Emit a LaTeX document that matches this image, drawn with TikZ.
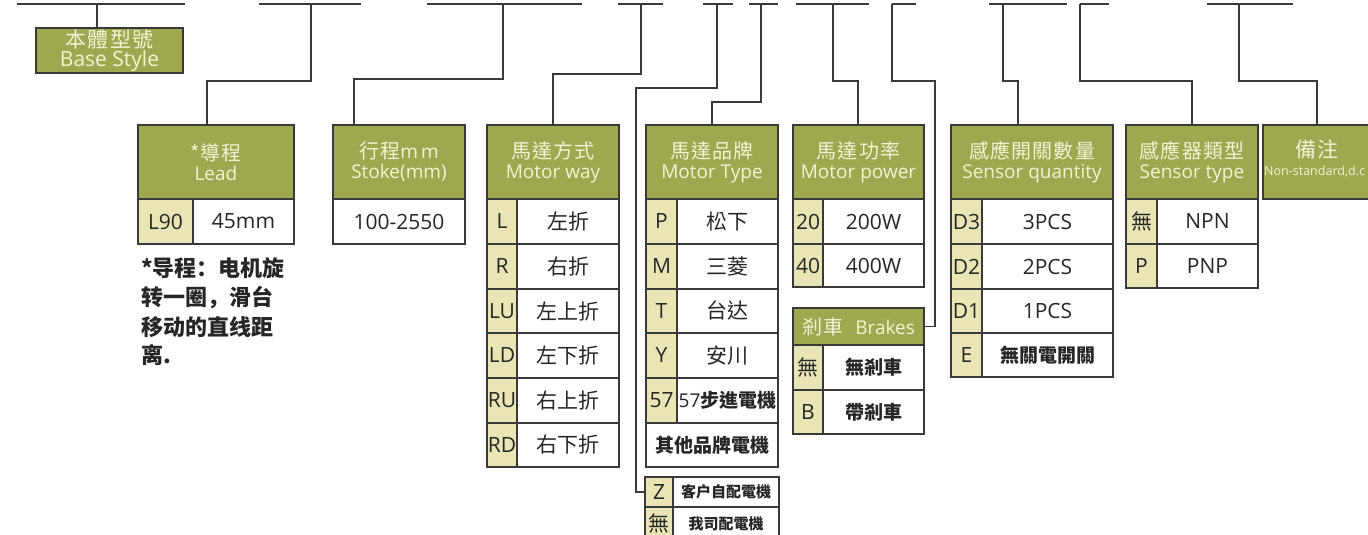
\documentclass[tikz,border=0pt]{standalone}
\usepackage{fontspec}
\setmainfont{Open Sans}
\newfontfamily\cjk{Noto Sans CJK TC}
\newfontfamily\cjkh[LetterSpace=6]{Noto Sans CJK TC}
\newfontfamily\cjksc{Noto Sans CJK SC}
\newcommand\C[1]{{\cjk #1}}
\newcommand\CH[1]{{\cjkh\fontsize{20}{20}\selectfont #1}}
\definecolor{hdrgreen}{HTML}{9DA84F}
\definecolor{codebeige}{HTML}{E9E5B5}
\definecolor{lnc}{HTML}{3A3A3A}
\definecolor{hdrtxt}{HTML}{F4F2D6}
\definecolor{txtc}{HTML}{262626}
\tikzset{
 conn/.style={draw=lnc, line width=1.7pt},
 hdr/.style={draw=lnc, line width=1.6pt, fill=hdrgreen, text=hdrtxt, inner sep=0pt, outer sep=0pt, align=center, font=\fontsize{19}{20}\selectfont},
 codecell/.style={draw=lnc, line width=1.6pt, fill=codebeige, text=txtc, inner sep=0pt, outer sep=0pt, font=\fontsize{21}{22}\selectfont},
 txtcell/.style={draw=lnc, line width=1.6pt, fill=white, text=txtc, inner sep=0pt, outer sep=0pt, font=\fontsize{21}{22}\selectfont},
 notetxt/.style={inner sep=0pt, text=txtc, anchor=west, font=\cjksc\bfseries\fontsize{22}{24}\selectfont},
}
% header box: [style] name x1 y1 x2 y2 text
\newcommand\hdrbox[7][]{%
 \pgfmathsetmacro\myW{#5-#3}\pgfmathsetmacro\myH{#6-#4}%
 \node[hdr,#1, minimum width=\myW pt, minimum height=\myH pt] (#2) at ({(#3+#5)/2},{(#4+#6)/2}) {#7};}
% row with code: name x1 xm x2 y1 y2 code text
\newcommand\crow[8]{%
 \pgfmathsetmacro\myW{#3-#2}\pgfmathsetmacro\myWb{#4-#3}\pgfmathsetmacro\myH{#6-#5}%
 \node[codecell, minimum width=\myW pt, minimum height=\myH pt] (#1c) at ({(#2+#3)/2},{(#5+#6)/2}) {\makebox[0pt]{#7}};
 \node[txtcell, minimum width=\myWb pt, minimum height=\myH pt] (#1t) at ({(#3+#4)/2},{(#5+#6)/2}) {\makebox[0pt]{#8}};}
% full row: name x1 x2 y1 y2 text
\newcommand\frow[6]{%
 \pgfmathsetmacro\myW{#3-#2}\pgfmathsetmacro\myH{#5-#4}%
 \node[txtcell, minimum width=\myW pt, minimum height=\myH pt] (#1) at ({(#2+#3)/2},{(#4+#5)/2}) {\makebox[0pt]{#6}};}
\begin{document}
\begin{tikzpicture}[x=1pt,y=-1pt]
\useasboundingbox (0,0) rectangle (1368,535);
\clip (0,0) rectangle (1368,535);
\fill[white] (0,0) rectangle (1368,535);

% ---------- top bars ----------
\coordinate (b1l) at (17,4);   \coordinate (b1r) at (185,4);
\coordinate (b2l) at (259,4);  \coordinate (b2r) at (361,4);
\coordinate (b3l) at (427,4);  \coordinate (b3r) at (582,4);
\coordinate (b4l) at (618,4);  \coordinate (b4r) at (663,4);
\coordinate (b5l) at (703,4);  \coordinate (b5r) at (733,4);
\coordinate (b6l) at (749,4);  \coordinate (b6r) at (778,4);
\coordinate (b7l) at (796,4);  \coordinate (b7r) at (869,4);
\coordinate (b8l) at (892,4);  \coordinate (b8r) at (916,4);
\coordinate (b9l) at (989,4);  \coordinate (b9r) at (1067,4);
\coordinate (b10l) at (1080,4); \coordinate (b10r) at (1109,4);
\coordinate (b11l) at (1207,4); \coordinate (b11r) at (1293,4);
\foreach \i in {1,...,11} {\draw[conn] (b\i l) -- (b\i r);}

% ---------- base style ----------
\hdrbox[font=\fontsize{21}{19}\selectfont]{base}{36}{28}{183}{73}{{\cjkh\fontsize{21}{19}\selectfont 本體型號}\\Base Style}

% ---------- headers ----------
\hdrbox{lead}{138}{125}{294}{199}{\CH{*導程}\\Lead}
\hdrbox{strk}{333}{125}{465}{199}{\CH{行程}m\,m\\Stoke(mm)}
\hdrbox{mway}{487}{125}{619}{199}{\CH{馬達方式}\\Motor way}
\hdrbox{mtype}{646}{125}{778}{199}{\CH{馬達品牌}\\Motor Type}
\hdrbox{mpow}{793}{125}{924}{199}{\CH{馬達功率}\\Motor power}
\hdrbox{sqty}{951}{125}{1113}{199}{\CH{感應開關數量}\\Sensor quantity}
\hdrbox{stype}{1126}{125}{1258}{199}{\CH{感應器類型}\\Sensor type}
\hdrbox{rem}{1263}{125}{1385}{199}{}
\node[inner sep=0pt, text=hdrtxt, font=\cjkh\fontsize{21}{22}\selectfont] (remc) at (1317,150) {備注};
\node[inner sep=0pt, text=hdrtxt, anchor=west, font=\fontsize{12.5}{14}\selectfont] (reme) at (1264,172) {Non-standard,d.c};
\hdrbox{brk}{793}{308}{924}{345}{\CH{剎車}\hspace{12pt}Brakes}

% ---------- lead ----------
\crow{ld1}{138}{193}{294}{199}{244}{L90}{45mm}
\node[notetxt] (n1) at (141,268) {*导程：电机旋};
\node[notetxt] (n2) at (141,298) {转一圈，滑台};
\node[notetxt] (n3) at (141,327) {移动的直线距};
\node[notetxt] (n4) at (141,355) {离.};

% ---------- stroke ----------
\frow{st1}{333}{465}{199}{244}{100-2550}

% ---------- motor way ----------
\crow{mw1}{487}{517}{619}{199}{244}{L}{\C{左折}}
\crow{mw2}{487}{517}{619}{244}{289}{R}{\C{右折}}
\crow{mw3}{487}{517}{619}{289}{333}{LU}{\C{左上折}}
\crow{mw4}{487}{517}{619}{333}{378}{LD}{\C{左下折}}
\crow{mw5}{487}{517}{619}{378}{423}{RU}{\C{右上折}}
\crow{mw6}{487}{517}{619}{423}{467}{RD}{\C{右下折}}

% ---------- motor type ----------
\crow{mt1}{646}{677}{778}{199}{244}{P}{\C{松下}}
\crow{mt2}{646}{677}{778}{244}{289}{M}{\C{三菱}}
\crow{mt3}{646}{677}{778}{289}{333}{T}{\C{台达}}
\crow{mt4}{646}{677}{778}{333}{378}{Y}{\C{安川}}
\crow{mt5}{646}{677}{778}{378}{423}{57}{\fontsize{19}{21}\selectfont 57\C{\bfseries 步進電機}}
\frow{mt6}{646}{778}{423}{467}{\fontsize{19}{21}\selectfont\C{\bfseries 其他品牌電機}}

% ---------- motor supply ----------
\crow{z1}{645}{673}{779}{477}{507}{Z}{\fontsize{15}{17}\selectfont\C{\bfseries 客户自配電機}}
\crow{z2}{645}{673}{779}{507}{540}{\C{無}}{\fontsize{15}{17}\selectfont\C{\bfseries 我司配電機}}

% ---------- motor power ----------
\crow{mp1}{793}{823}{924}{199}{244}{20}{200W}
\crow{mp2}{793}{823}{924}{244}{287}{40}{400W}

% ---------- brakes ----------
\crow{bk1}{793}{823}{924}{345}{390}{\C{無}}{\fontsize{19}{21}\selectfont\C{\bfseries 無剎車}}
\crow{bk2}{793}{823}{924}{390}{434}{B}{\fontsize{19}{21}\selectfont\C{\bfseries 帶剎車}}

% ---------- sensor quantity ----------
\crow{sq1}{951}{982}{1113}{199}{244}{D3}{3PCS}
\crow{sq2}{951}{982}{1113}{244}{289}{D2}{2PCS}
\crow{sq3}{951}{982}{1113}{289}{333}{D1}{1PCS}
\crow{sq4}{951}{982}{1113}{333}{377}{E}{\fontsize{19}{21}\selectfont\C{\bfseries 無關電開關}}

% ---------- sensor type ----------
\crow{sy1}{1126}{1157}{1258}{199}{244}{\C{無}}{NPN}
\crow{sy2}{1126}{1157}{1258}{244}{288}{P}{PNP}

% ---------- connectors ----------
\coordinate (s1) at (97,4);
\draw[conn] (s1) -- (s1 |- base.north);
\coordinate (s2) at (311,4);   \coordinate (k2) at (207,81);
\draw[conn] (s2) |- (k2) -- (k2 |- lead.north);
\coordinate (s3) at (503,4);   \coordinate (k3) at (354,79);
\draw[conn] (s3) |- (k3) -- (k3 |- strk.north);
\coordinate (s4) at (641,4);   \coordinate (k4) at (553,74);
\draw[conn] (s4) |- (k4) -- (k4 |- mway.north);
\coordinate (s5) at (717,4);   \coordinate (k5) at (636,88);
\draw[conn] (s5) |- (k5) |- (z1c.west);
\coordinate (s6) at (761,4);   \coordinate (k6) at (712,102);
\draw[conn] (s6) |- (k6) -- (k6 |- mtype.north);
\coordinate (s7) at (833,4);   \coordinate (k7) at (858,81);
\draw[conn] (s7) |- (k7) -- (k7 |- mpow.north);
\coordinate (s8) at (892,4);   \coordinate (k8) at (935,81);
\draw[conn] (s8) |- (k8) |- (brk.east);
\coordinate (s9) at (1003,4);  \coordinate (k9) at (1018,81);
\draw[conn] (s9) |- (k9) -- (k9 |- sqty.north);
\coordinate (s10) at (1080,4); \coordinate (k10) at (1192,81);
\draw[conn] (s10) |- (k10) -- (k10 |- stype.north);
\coordinate (s11) at (1239,4); \coordinate (k11) at (1317,81);
\draw[conn] (s11) |- (k11) -- (k11 |- rem.north);
\end{tikzpicture}
\end{document}
